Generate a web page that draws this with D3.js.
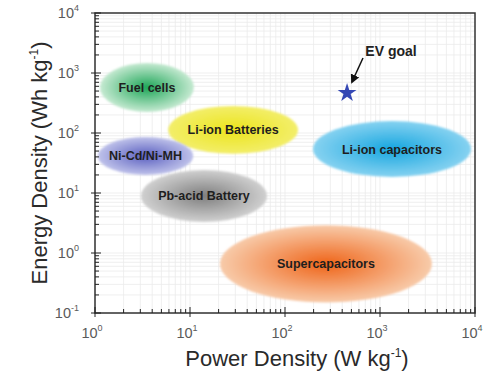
<!DOCTYPE html>
<html>
<head>
<meta charset="utf-8">
<script src="https://cdn.jsdelivr.net/npm/d3@7"></script>
<style>
html,body{margin:0;padding:0;background:#fff;}
svg{display:block;font-family:"Liberation Sans",Arial,sans-serif;}
</style>
</head>
<body>
<svg id="chart" width="495" height="376"></svg>
<script>
// ---- data ----
const categories = ["Fuel cells", "Li-ion Batteries", "Ni-Cd/Ni-MH", "Pb-acid Battery", "Li-ion capacitors", "Supercapacitors"];
const powerMin  = [1.13, 5.9, 1.07, 3.05, 197, 20.7];
const powerMax  = [11.0, 137, 10.8, 64.6, 9080, 3520];
const energyMin = [224, 45, 20, 3.3, 18.5, 0.15];
const energyMax = [1470, 282, 86, 24.2, 158, 2.9];
const centerColors = ["#1ea658", "#ece41c", "#5a5fc0", "#7e7e7e", "#16a6df", "#ef6418"];
const edgeColors   = ["#c6ead2", "#f3ee6a", "#bfc2ea", "#d0d0d0", "#86d2f1", "#f8cbaa"];
const evGoal = [450, 465];
const evLabelPos = [1306, 2326];
const evArrowFrom = [662, 1778];
const evArrowTo = [507, 708];
const xTickExp = [0, 1, 2, 3, 4];
const yTickExp = [-1, 0, 1, 2, 3, 4];

// ---- layout ----
const svg = d3.select("#chart");
const L = 95, R = 475, T = 13, B = 313;
const x = d3.scaleLog().domain([1, 1e4]).range([L, R]);
const y = d3.scaleLog().domain([0.1, 1e4]).range([B, T]);

const defs = svg.append("defs");

// grid (major + minor)
const minorX = [], minorY = [];
for (let e = 0; e < 4; e++) for (let m = 1; m <= 9; m++) minorX.push(m * Math.pow(10, e));
for (let e = -1; e < 4; e++) for (let m = 1; m <= 9; m++) minorY.push(m * Math.pow(10, e));
const grid = svg.append("g").attr("stroke", "#ebebeb").attr("stroke-width", 0.8);
grid.selectAll("line.gx").data(minorX).join("line")
  .attr("x1", d => x(d)).attr("x2", d => x(d)).attr("y1", T).attr("y2", B);
grid.selectAll("line.gy").data(minorY).join("line")
  .attr("y1", d => y(d)).attr("y2", d => y(d)).attr("x1", L).attr("x2", R);

// gradients
categories.forEach((c, i) => {
  const g = defs.append("radialGradient").attr("id", "grad" + i)
    .attr("cx", "50%").attr("cy", "50%").attr("r", "50%");
  g.append("stop").attr("offset", "0%").attr("stop-color", centerColors[i]);
  g.append("stop").attr("offset", "100%").attr("stop-color", edgeColors[i]);
});
const blur = defs.append("filter").attr("id", "soft").attr("x", "-10%").attr("y", "-10%").attr("width", "120%").attr("height", "120%");
blur.append("feGaussianBlur").attr("stdDeviation", 0.8);

// ellipses
const regions = categories.map((c, i) => ({
  name: c, i,
  cx: (x(powerMin[i]) + x(powerMax[i])) / 2,
  cy: (y(energyMin[i]) + y(energyMax[i])) / 2,
  rx: (x(powerMax[i]) - x(powerMin[i])) / 2,
  ry: (y(energyMin[i]) - y(energyMax[i])) / 2
}));
svg.append("g").selectAll("ellipse").data(regions).join("ellipse")
  .attr("cx", d => d.cx).attr("cy", d => d.cy)
  .attr("rx", d => d.rx).attr("ry", d => d.ry)
  .attr("fill", d => `url(#grad${d.i})`)
  .attr("filter", "url(#soft)");
svg.append("g").selectAll("text").data(regions).join("text")
  .attr("x", d => d.cx).attr("y", d => d.cy + 4.5)
  .attr("text-anchor", "middle")
  .attr("font-size", 12.5).attr("font-weight", "bold").attr("fill", "#1e1e1e")
  .text(d => d.name);

// frame
svg.append("rect").attr("x", L).attr("y", T).attr("width", R - L).attr("height", B - T)
  .attr("fill", "none").attr("stroke", "#333").attr("stroke-width", 1.5);

// ticks
const ax = svg.append("g").attr("stroke", "#222").attr("stroke-width", 1);
ax.selectAll("line.mx").data(minorX.concat([1e4])).join("line")
  .attr("x1", d => x(d)).attr("x2", d => x(d))
  .attr("y1", d => Number.isInteger(Math.log10(d)) ? B + 4 : B)
  .attr("y2", d => Number.isInteger(Math.log10(d)) ? B - 6 : B - 4);
ax.selectAll("line.my").data(minorY.concat([1e4])).join("line")
  .attr("y1", d => y(d)).attr("y2", d => y(d))
  .attr("x1", d => Math.abs(Math.log10(d) - Math.round(Math.log10(d))) < 1e-9 ? L - 4 : L)
  .attr("x2", d => Math.abs(Math.log10(d) - Math.round(Math.log10(d))) < 1e-9 ? L + 6 : L + 4);

// tick labels
const xl = svg.append("g").selectAll("text").data(xTickExp).join("text")
  .attr("x", d => x(Math.pow(10, d)) - 3).attr("y", 338)
  .attr("text-anchor", "middle").attr("font-size", 14.5).attr("fill", "#5a5a5a");
xl.append("tspan").text("10");
xl.append("tspan").attr("font-size", 9).attr("dy", -7).text(d => d);

const yl = svg.append("g").selectAll("text").data(yTickExp).join("text")
  .attr("x", 79).attr("y", d => y(Math.pow(10, d)) + 5)
  .attr("text-anchor", "end").attr("font-size", 14.5).attr("fill", "#5a5a5a");
yl.append("tspan").text("10");
yl.append("tspan").attr("font-size", 9).attr("dy", -7).text(d => d);

// axis titles
const xt = svg.append("text").attr("x", 297).attr("y", 366).attr("text-anchor", "middle")
  .attr("font-size", 22).attr("fill", "#2a2a2a");
xt.append("tspan").text("Power Density (W kg");
xt.append("tspan").attr("font-size", 12).attr("dy", -9).text("-1");
xt.append("tspan").attr("dy", 9).text(")");

const yt = svg.append("text").attr("transform", "translate(47,163) rotate(-90)").attr("text-anchor", "middle")
  .attr("font-size", 22).attr("fill", "#2a2a2a");
yt.append("tspan").text("Energy Density (Wh kg");
yt.append("tspan").attr("font-size", 12).attr("dy", -9).text("-1");
yt.append("tspan").attr("dy", 9).text(")");

// EV goal
svg.append("path").attr("d", d3.symbol(d3.symbolStar, 110)())
  .attr("transform", `translate(${x(evGoal[0])},${y(evGoal[1])})`)
  .attr("fill", "#3548b4");
defs.append("marker").attr("id", "arrow").attr("viewBox", "0 0 10 10")
  .attr("refX", 8).attr("refY", 5).attr("markerWidth", 6).attr("markerHeight", 6)
  .attr("orient", "auto")
  .append("path").attr("d", "M0,0 L10,5 L0,10 z").attr("fill", "#111");
svg.append("line")
  .attr("x1", x(evArrowFrom[0])).attr("y1", y(evArrowFrom[1]))
  .attr("x2", x(evArrowTo[0])).attr("y2", y(evArrowTo[1]))
  .attr("stroke", "#111").attr("stroke-width", 1.5).attr("marker-end", "url(#arrow)");
svg.append("text").attr("x", x(evLabelPos[0])).attr("y", y(evLabelPos[1]) + 5)
  .attr("text-anchor", "middle").attr("font-size", 14).attr("font-weight", "bold").attr("fill", "#222")
  .text("EV goal");
</script>
</body>
</html>
